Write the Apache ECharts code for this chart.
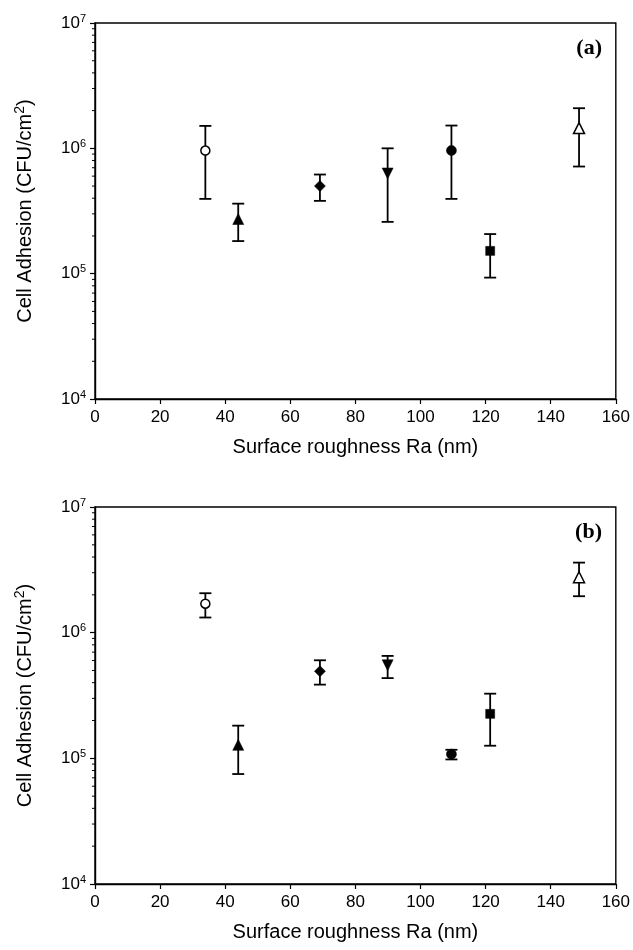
<!DOCTYPE html>
<html>
<head>
<meta charset="utf-8">
<script src="https://cdn.jsdelivr.net/npm/echarts@6/dist/echarts.min.js"></script>
<style>
html,body{margin:0;padding:0;background:#fff;}
#chart{width:633px;height:950px;}
</style>
</head>
<body>
<div id="chart"></div>
<script>
// ---- data ----
const roughness = [33.9, 44.0, 69.1, 89.9, 109.5, 121.4, 148.7];
const aMean = [9.6e5, 2.73e5, 5.0e5, 6.3e5, 9.6e5, 1.52e5, 1.45e6];
const aHigh = [1.51e6, 3.62e5, 6.18e5, 1.0e6, 1.52e6, 2.07e5, 2.09e6];
const aLow  = [3.95e5, 1.82e5, 3.81e5, 2.59e5, 3.95e5, 9.3e4, 7.16e5];
const bMean = [1.70e6, 1.28e5, 4.93e5, 5.5e5, 1.08e5, 2.26e5, 2.76e6];
const bHigh = [2.06e6, 1.82e5, 6.03e5, 6.53e5, 1.17e5, 3.27e5, 3.61e6];
const bLow  = [1.32e6, 7.5e4, 3.86e5, 4.35e5, 9.8e4, 1.26e5, 1.95e6];
const xTicks = [0, 20, 40, 60, 80, 100, 120, 140, 160];
const yMajor = [1e4, 1e5, 1e6, 1e7];
const minorMult = [2, 3, 4, 5, 6, 7, 8, 9];
const panelLabels = ['(a)', '(b)'];

// marker styles (one per sample)
const markers = [
  {symbol: 'circle', size: 9, open: true, rot: 0},
  {symbol: 'triangle', size: 11, open: false, rot: 0},
  {symbol: 'diamond', size: 11, open: false, rot: 0},
  {symbol: 'triangle', size: 11, open: false, rot: 180},
  {symbol: 'circle', size: 10, open: false, rot: 0},
  {symbol: 'rect', size: 9, open: false, rot: 0},
  {symbol: 'triangle', size: 11, open: true, rot: 0}
];

const minorVals = [];
for (let d = 0; d < yMajor.length - 1; d++) {
  minorMult.forEach(m => minorVals.push(yMajor[d] * m));
}

const FONT = 'Liberation Sans, Arial, sans-serif';
const grids = [
  {left: 95, top: 23, width: 522, height: 376, show: true, borderColor: '#000', borderWidth: 1.4},
  {left: 95, top: 507, width: 522, height: 377, show: true, borderColor: '#000', borderWidth: 1.4}
];

const xAxes = grids.map((g, i) => ({
  type: 'value', gridIndex: i, min: xTicks[0], max: xTicks[xTicks.length - 1], interval: 20,
  name: 'Surface roughness Ra (nm)', nameLocation: 'middle', nameGap: 38,
  nameTextStyle: {fontFamily: FONT, fontSize: 20, color: '#000'},
  axisLine: {lineStyle: {color: '#000', width: 1.4}},
  axisTick: {show: true, inside: false, length: 5, lineStyle: {color: '#000', width: 1.2}},
  axisLabel: {fontFamily: FONT, fontSize: 17, color: '#000', margin: 10},
  splitLine: {show: false}
}));

const yAxes = grids.map((g, i) => ({
  type: 'log', logBase: 10, gridIndex: i, min: yMajor[0], max: yMajor[yMajor.length - 1],
  name: '{t|Cell Adhesion (CFU/cm}{s|2}{t|)}', nameLocation: 'middle', nameGap: 58, nameRotate: 90,
  nameTextStyle: {
    color: '#000',
    rich: {
      t: {fontFamily: FONT, fontSize: 20, color: '#000', lineHeight: 24},
      s: {fontFamily: FONT, fontSize: 14, color: '#000', verticalAlign: 'top', lineHeight: 14}
    }
  },
  axisLine: {lineStyle: {color: '#000', width: 1.4}},
  axisTick: {show: true, inside: false, length: 5, lineStyle: {color: '#000', width: 1.2}},
  axisLabel: {
    margin: 9,
    formatter: v => '{b|10}{s|' + Math.round(Math.log10(v)) + '}',
    rich: {
      b: {fontFamily: FONT, fontSize: 17, color: '#000', lineHeight: 20},
      s: {fontFamily: FONT, fontSize: 11, color: '#000', verticalAlign: 'top', lineHeight: 11}
    }
  },
  splitLine: {show: false},
  minorTick: {show: false}
}));

const series = [];
const panels = [[aMean, aLow, aHigh], [bMean, bLow, bHigh]];
panels.forEach((p, gi) => {
  const [mean, low, high] = p;
  // minor log ticks
  series.push({
    type: 'custom', xAxisIndex: gi, yAxisIndex: gi, silent: true, z: 3,
    data: minorVals.map(v => [0, v]),
    renderItem: (params, api) => {
      const pt = api.coord([api.value(0), api.value(1)]);
      return {type: 'line', shape: {x1: pt[0] - 3, y1: pt[1], x2: pt[0], y2: pt[1]},
        style: {stroke: '#000', lineWidth: 1}};
    }
  });
  // error bars
  series.push({
    type: 'custom', xAxisIndex: gi, yAxisIndex: gi, silent: true, z: 4,
    data: roughness.map((x, k) => [x, low[k], high[k]]),
    renderItem: (params, api) => {
      const x = api.value(0);
      const lo = api.coord([x, api.value(1)]);
      const hi = api.coord([x, api.value(2)]);
      const cw = 6;
      return {type: 'group', children: [
        {type: 'line', shape: {x1: lo[0], y1: lo[1], x2: hi[0], y2: hi[1]}, style: {stroke: '#000', lineWidth: 1.8}},
        {type: 'line', shape: {x1: lo[0] - cw, y1: lo[1], x2: lo[0] + cw, y2: lo[1]}, style: {stroke: '#000', lineWidth: 1.8}},
        {type: 'line', shape: {x1: hi[0] - cw, y1: hi[1], x2: hi[0] + cw, y2: hi[1]}, style: {stroke: '#000', lineWidth: 1.8}}
      ]};
    }
  });
  // markers
  roughness.forEach((x, k) => {
    const m = markers[k];
    series.push({
      type: 'scatter', xAxisIndex: gi, yAxisIndex: gi, z: 5,
      symbol: m.symbol, symbolSize: m.size, symbolRotate: m.rot,
      itemStyle: {color: m.open ? '#fff' : '#000', borderColor: '#000', borderWidth: m.open ? 1.5 : 0.5, opacity: 1},
      data: [[x, mean[k]]]
    });
  });
});

const chart = echarts.init(document.getElementById('chart'), null, {renderer: 'canvas'});
chart.setOption({
  animation: false,
  backgroundColor: '#fff',
  title: panelLabels.map((t, i) => ({
    text: t, right: 26, top: i === 0 ? 32 : 516,
    textStyle: {fontFamily: 'Liberation Serif, Times New Roman, serif', fontWeight: 'bold', fontSize: 22, color: '#000'}
  })),
  grid: grids,
  xAxis: xAxes,
  yAxis: yAxes,
  series: series
});
</script>
</body>
</html>
